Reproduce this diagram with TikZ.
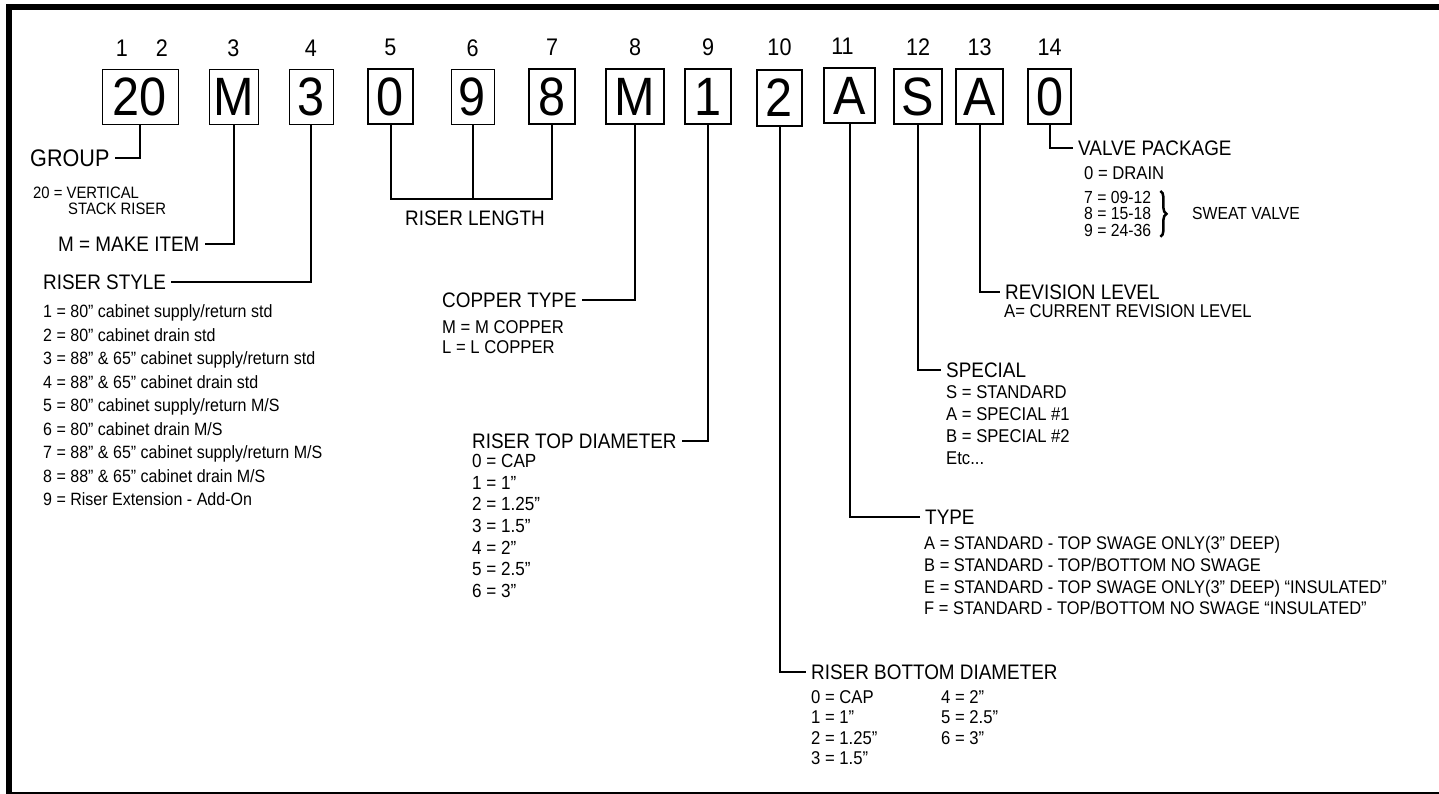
\documentclass[tikz,border=0pt]{standalone}
\usepackage{fontspec}
\setmainfont{Liberation Sans}[FakeStretch=0.9]
\usetikzlibrary{positioning,decorations.pathreplacing}

\begin{document}
\begin{tikzpicture}[
    x=1pt, y=-1pt,
    digit/.style={draw, line width=1pt, minimum width=46pt, minimum height=55pt, inner sep=0pt, font=\fontsize{54}{54}\selectfont},
    digitb/.style={digit, line width=2pt},
    posnum/.style={inner sep=0pt, font=\fontsize{24}{24}\selectfont},
    head/.style={anchor=west, inner xsep=5pt, inner ysep=0pt, font=\fontsize{21}{21}\selectfont},
    list/.style={anchor=north west, align=left, inner sep=0pt, font=\fontsize{18.5}{21.7}\selectfont},
    link/.style={line width=2pt}
]
\useasboundingbox (0,0) rectangle (1439,793);
\draw[line width=6pt] (9,7) rectangle (1445,795);

% code boxes
\node[digit, minimum width=76pt] (bgroup) at (140,96.5) {20};
\node[digit, minimum width=49pt] (bmake) at (233.5,96.5) {M};
\node[digit, minimum width=44pt] (bstyle) at (311,96.5) {3};
\node[digitb, minimum width=45pt] (blenA) at (390.5,96.5) {0};
\node[digit, minimum width=43pt] (blenB) at (472.5,96.5) {9};
\node[digitb] (blenC) at (552,96.5) {8};
\node[digitb, minimum width=58pt] (bcopper) at (635,96.5) {M};
\node[digitb] (btop) at (708,96.5) {1};
\node[digitb, minimum width=45pt, minimum height=56pt] (bbottom) at (779.5,98) {2};
\node[digitb, minimum width=51pt] (btype) at (849.5,95.5) {A};
\node[digitb, minimum width=48pt] (bspecial) at (918,96.5) {S};
\node[digitb, minimum width=47pt] (brev) at (979.5,96.5) {A};
\node[digitb, minimum width=43pt] (bvalve) at (1049.5,96.5) {0};

% position numbers
\node[posnum, above=12pt of bgroup.north, xshift=-18pt] (p1) {1};
\node[posnum, above=12pt of bgroup.north, xshift=22pt] (p2) {2};
\node[posnum, above=12pt of bmake] (p3) {3};
\node[posnum, above=12pt of bstyle] (p4) {4};
\node[posnum, above=12pt of blenA] (p5) {5};
\node[posnum, above=12pt of blenB] (p6) {6};
\node[posnum, above=12pt of blenC] (p7) {7};
\node[posnum, above=12pt of bcopper] (p8) {8};
\node[posnum, above=12pt of btop] (p9) {9};
\node[posnum, above=12pt of bbottom.north, yshift=1.5pt] (p10) {10};
\node[posnum, above=12pt of btype, xshift=-7pt] (p11) {11};
\node[posnum, above=12pt of bspecial] (p12) {12};
\node[posnum, above=12pt of brev] (p13) {13};
\node[posnum, above=12pt of bvalve] (p14) {14};

% left side
\node[head, font=\fontsize{24}{24}\selectfont] (group) at (25,158) {GROUP};
\node[list, font=\fontsize{16.5}{16}\selectfont] (grouplist) at (33,186.5) {20 = VERTICAL\\\hspace*{35pt}STACK RISER};
\node[head] (make) at (53,244) {M = MAKE ITEM};
\node[head] (style) at (38,282) {RISER STYLE};
\node[list, font=\fontsize{17.8}{23.5}\selectfont] (stylelist) at (43,304.5) {1 = 80” cabinet supply/return std\\
2 = 80” cabinet drain std\\
3 = 88” \& 65” cabinet supply/return std\\
4 = 88” \& 65” cabinet drain std\\
5 = 80” cabinet supply/return M/S\\
6 = 80” cabinet drain M/S\\
7 = 88” \& 65” cabinet supply/return M/S\\
8 = 88” \& 65” cabinet drain M/S\\
9 = Riser Extension - Add-On};

% riser length
\node[head, anchor=center, inner xsep=0pt] (len) at (475,218) {RISER LENGTH};
\coordinate (lenbar) at (472.5,199);

% middle
\node[head] (copper) at (437,300) {COPPER TYPE};
\node[list, font=\fontsize{18.5}{20}\selectfont] (copperlist) at (442,320.3) {M = M COPPER\\L = L COPPER};
\node[head] (top) at (467,441) {RISER TOP DIAMETER};
\node[list, font=\fontsize{19}{21.7}\selectfont] (toplist) at (472,454) {0 = CAP\\1 = 1”\\2 = 1.25”\\3 = 1.5”\\4 = 2”\\5 = 2.5”\\6 = 3”};
\node[head] (bottom) at (806,672) {RISER BOTTOM DIAMETER};
\node[list, font=\fontsize{18.5}{20.3}\selectfont] (bottomlistA) at (811,690.3) {0 = CAP\\1 = 1”\\2 = 1.25”\\3 = 1.5”};
\node[list, font=\fontsize{18.5}{20.3}\selectfont] (bottomlistB) at (941,690.3) {4 = 2”\\5 = 2.5”\\6 = 3”};

% right side
\node[head] (type) at (920,517) {TYPE};
\node[list, font=\fontsize{18.3}{21.7}\selectfont] (typelist) at (924,536.4) {A = STANDARD - TOP SWAGE ONLY(3” DEEP)\\
B = STANDARD - TOP/BOTTOM NO SWAGE\\
E = STANDARD - TOP SWAGE ONLY(3” DEEP) “INSULATED”\\
F = STANDARD - TOP/BOTTOM NO SWAGE “INSULATED”};
\node[head] (special) at (941,370) {SPECIAL};
\node[list, font=\fontsize{18.5}{22}\selectfont] (speciallist) at (946,385.4) {S = STANDARD\\A = SPECIAL \#1\\B = SPECIAL \#2\\Etc...};
\node[head] (rev) at (1000,292) {REVISION LEVEL};
\node[list, font=\fontsize{18.5}{20}\selectfont] (revlist) at (1004,304.4) {A= CURRENT REVISION LEVEL};
\node[head] (valve) at (1073,148) {VALVE PACKAGE};
\node[list] (valvelist) at (1084,166.5) {0 = DRAIN};
\node[list, font=\fontsize{17.5}{16.5}\selectfont] (sweatlist) at (1084,191) {7 = 09-12\\8 = 15-18\\9 = 24-36};
\node[head, font=\fontsize{17.5}{17.5}\selectfont] (sweat) at (1187,213) {SWEAT VALVE};
\draw[line width=2.5pt, decorate, decoration={brace, amplitude=6pt}]
    ([xshift=9pt]sweatlist.north east) -- ([xshift=9pt]sweatlist.south east);

% leaders
\draw[link] (bgroup.south) |- (group.east);
\draw[link] (bmake.south) |- (make.east);
\draw[link] (bstyle.south) |- (style.east);
\draw[link] (blenA.south) |- (lenbar) -| (blenC.south);
\draw[link] (blenB.south) -- (lenbar);
\draw[link] (bcopper.south) |- (copper.east);
\draw[link] (btop.south) |- (top.east);
\draw[link] (bbottom.south) |- (bottom.west);
\draw[link] (btype.south) |- (type.west);
\draw[link] (bspecial.south) |- (special.west);
\draw[link] (brev.south) |- (rev.west);
\draw[link] (bvalve.south) |- (valve.west);
\end{tikzpicture}
\end{document}
